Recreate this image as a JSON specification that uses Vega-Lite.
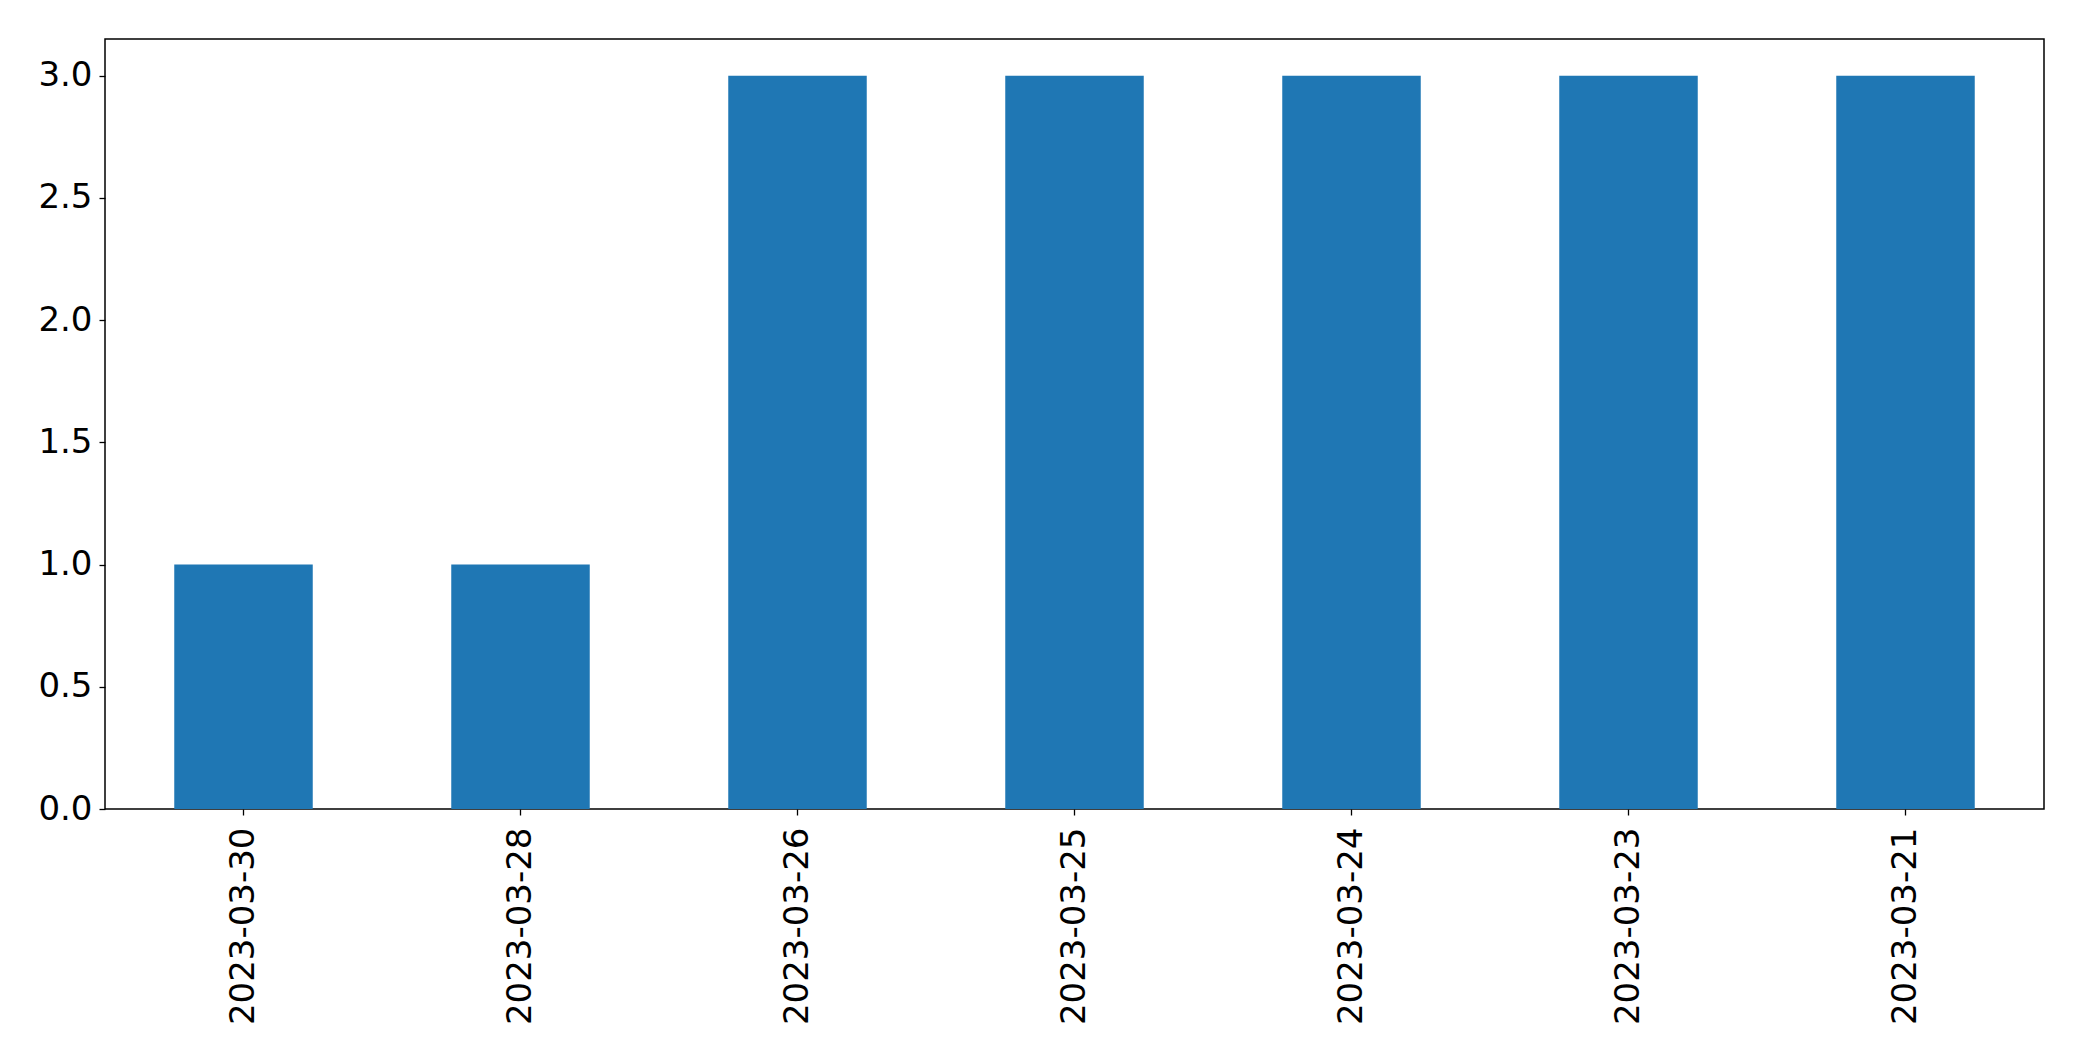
{
  "$schema": "https://vega.github.io/schema/vega-lite/v6.json",
  "autosize": {"type": "none"},
  "padding": {"left": 105, "top": 39, "right": 38, "bottom": 252},
  "width": 1939,
  "height": 770,
  "background": "white",
  "config": {
    "view": {"stroke": "black", "strokeWidth": 1.5},
    "font": "DejaVu Sans"
  },
  "data": {
    "values": [
      {"date": "2023-03-30", "count": 1},
      {"date": "2023-03-28", "count": 1},
      {"date": "2023-03-26", "count": 3},
      {"date": "2023-03-25", "count": 3},
      {"date": "2023-03-24", "count": 3},
      {"date": "2023-03-23", "count": 3},
      {"date": "2023-03-21", "count": 3}
    ]
  },
  "mark": {"type": "bar", "color": "#1f77b4"},
  "encoding": {
    "x": {
      "field": "date",
      "type": "nominal",
      "sort": null,
      "scale": {"paddingInner": 0.5, "paddingOuter": 0.25},
      "axis": {
        "title": null,
        "labelAngle": -90,
        "labelAlign": "right",
        "labelBaseline": "middle",
        "labelFontSize": 34,
        "labelLimit": 0,
        "labelColor": "black",
        "labelFont": "DejaVu Sans",
        "labelPadding": 12,
        "tickSize": 6,
        "tickColor": "black",
        "tickWidth": 1.3,
        "domain": false,
        "grid": false
      }
    },
    "y": {
      "field": "count",
      "type": "quantitative",
      "scale": {"domain": [0, 3.15], "nice": false, "zero": true},
      "axis": {
        "title": null,
        "values": [0, 0.5, 1, 1.5, 2, 2.5, 3],
        "format": ".1f",
        "labelFontSize": 34,
        "labelColor": "black",
        "labelFont": "DejaVu Sans",
        "labelPadding": 7,
        "tickSize": 6,
        "tickColor": "black",
        "tickWidth": 1.3,
        "domain": false,
        "grid": false
      }
    }
  }
}
